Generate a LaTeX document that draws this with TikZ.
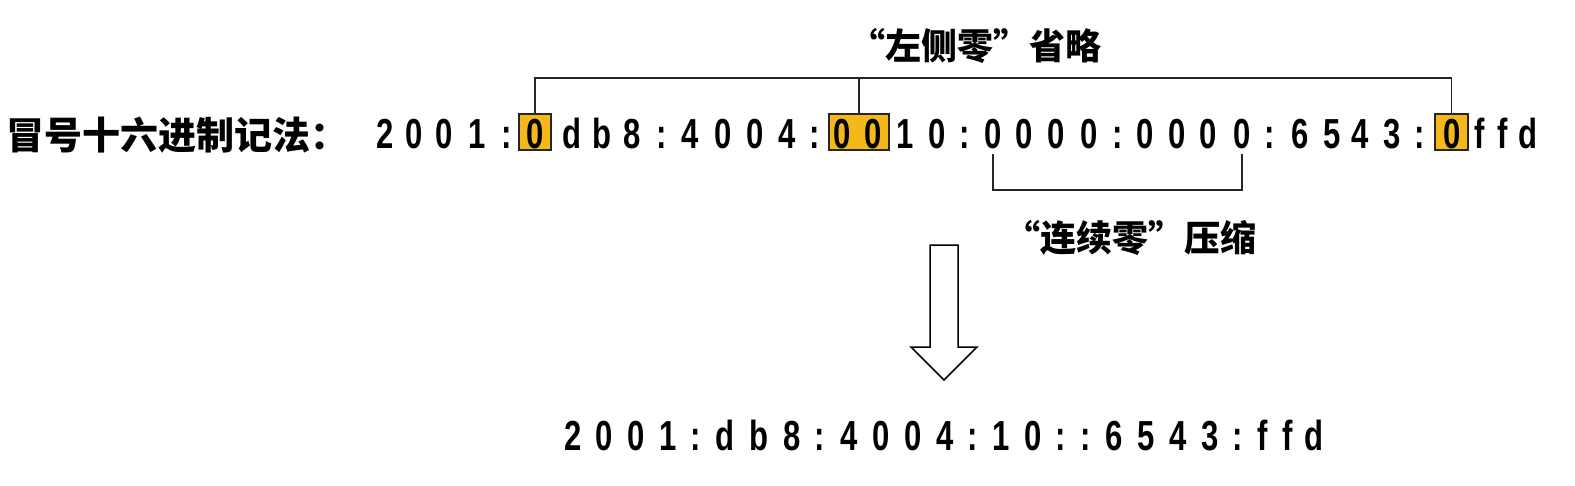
\documentclass[tikz,border=0pt]{standalone}
\usepackage{fontspec}
\newfontfamily\numfont{Liberation Sans}
\newfontfamily\cjkfont{Noto Sans CJK SC}
\definecolor{zerofill}{RGB}{245,184,28}

\tikzset{
    ch/.style={inner sep=0pt, anchor=base, xscale=0.74,
        font=\numfont\bfseries\fontsize{42}{48}\selectfont},
    zerobox/.style={draw=black!85, line width=1.5pt, fill=zerofill, inner sep=0pt},
    label/.style={inner sep=0pt, font=\cjkfont\bfseries\fontsize{36}{40}\selectfont},
    brace/.style={line width=1.6pt, black!85}
}

\begin{document}
\begin{tikzpicture}[x=1pt, y=-1pt]
            \useasboundingbox (0,0) rectangle (1575,485);

            % boxes round the leading zeros
            \node[zerobox, minimum width=32pt, minimum height=36pt] (z1) at (535,132) {};
            \node[zerobox, minimum width=60pt, minimum height=36pt] (z2) at (859,132) {};
            \node[zerobox, minimum width=33pt, minimum height=36pt] (z3) at (1451.5,132) {};

            \node[label, anchor=west, font=\cjkfont\bfseries\fontsize{38}{42}\selectfont]
                (name) at (6,135) {冒号十六进制记法：};

            % the full address
            \foreach \x/\c [count=\i] in {385/2, 414/0, 444/0, 477/1, 507/:, 535/0,
                572/d, 602/b, 632/8, 662/:, 690/4, 723/0, 755/0, 787/4, 815/:,
                842/0, 873/0, 905/1, 937/0, 965/:, 993/0, 1024/0, 1056/0, 1089/0,
                1118/:, 1145/0, 1177/0, 1208/0, 1242/0, 1270/:, 1300/6, 1332/5,
                1360/4, 1392/3, 1420/:, 1452/0, 1480/f, 1503/f, 1528/d}
                \node[ch] (a\i) at (\x,148) {\c};

            % left zeros
            \coordinate (tl) at (535,78);
            \draw[brace] (z1.north) -- (tl) -- (tl -| z3.north) -- (z3.north);
            \draw[brace] (z2.north) -- (z2.north |- tl);
            \node[label] (left) at (975,46) {“左侧零”省略};

            % run of zeros
            \coordinate (bt) at (0,154);
            \coordinate (bb) at (0,190);
            \draw[brace] (a21 |- bt) -- (a21 |- bb) -- (a29 |- bb) -- (a29 |- bt);
            \node[label] (run) at (1130,238) {“连续零”压缩};

            % hollow arrow
            \draw[line width=1.5pt, fill=white] (930,245) -- (958,245) -- (958,347)
                -- (977,347) -- (944,380) -- (911,347) -- (930,347) -- cycle;

            % the short address
            \foreach \x/\c [count=\i] in {573/2, 604/0, 636/0, 668/1, 696/:, 725/d,
                759/b, 792/8, 820/:, 849/4, 881/0, 913/0, 945/4, 973/:, 1001/1,
                1033/0, 1061/:, 1086/:, 1114/6, 1146/5, 1178/4, 1210/3, 1238/:,
                1263/f, 1288/f, 1314/d}
                \node[ch] (b\i) at (\x,450) {\c};
        \end{tikzpicture}
\end{document}
